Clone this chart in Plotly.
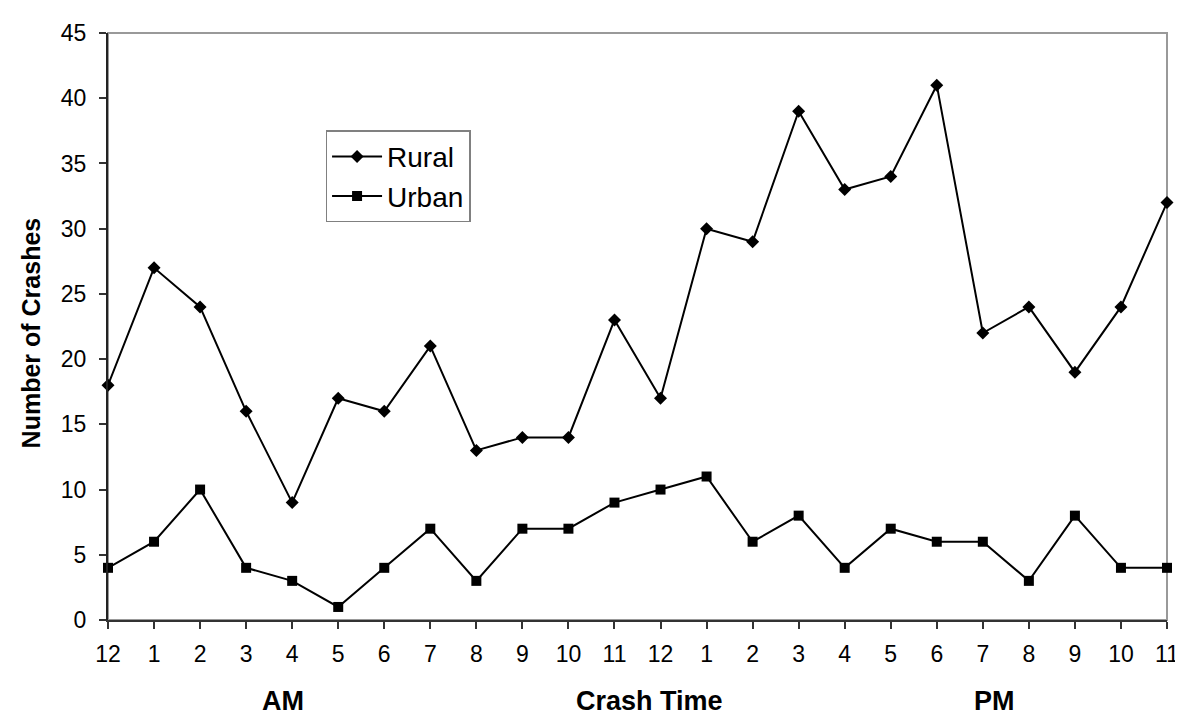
import plotly.graph_objects as go

hours = ["12", "1", "2", "3", "4", "5", "6", "7", "8", "9", "10", "11",
         "12", "1", "2", "3", "4", "5", "6", "7", "8", "9", "10", "11"]
rural = [18, 27, 24, 16, 9, 17, 16, 21, 13, 14, 14, 23,
         17, 30, 29, 39, 33, 34, 41, 22, 24, 19, 24, 32]
urban = [4, 6, 10, 4, 3, 1, 4, 7, 3, 7, 7, 9,
         10, 11, 6, 8, 4, 7, 6, 6, 3, 8, 4, 4]
y_ticks = [0, 5, 10, 15, 20, 25, 30, 35, 40, 45]

xpos = list(range(len(hours)))

W, H = 1183, 717
L, R, T, B = 100, 17, 15, 105
pw = W - L - R
ph = H - T - B

def px_to_paper_x(px):
    return (px - L) / pw

def px_to_paper_y(py):
    return (H - B - py) / ph

fig = go.Figure()
fig.add_trace(go.Scatter(
    x=xpos, y=rural, name="Rural", mode="lines+markers",
    line=dict(color="black", width=2),
    marker=dict(symbol="diamond", size=10, color="black"),
    cliponaxis=False,
))
fig.add_trace(go.Scatter(
    x=xpos, y=urban, name="Urban", mode="lines+markers",
    line=dict(color="black", width=2),
    marker=dict(symbol="square", size=10, color="black"),
    cliponaxis=False,
))

font_family = "Liberation Sans, Arial, sans-serif"

fig.update_layout(
    width=W, height=H,
    margin=dict(l=L, r=R, t=T, b=B, pad=0),
    paper_bgcolor="white", plot_bgcolor="white",
    font=dict(family=font_family, color="black", size=23),
    showlegend=True,
    legend=dict(
        x=px_to_paper_x(319), y=px_to_paper_y(114),
        xanchor="left", yanchor="top",
        bgcolor="white", bordercolor="#808080", borderwidth=1.5,
        font=dict(size=28, family=font_family, color="black"),
        tracegroupgap=0, itemwidth=50,
    ),
    xaxis=dict(
        range=[0, len(hours) - 1],
        tickmode="array", tickvals=xpos, ticktext=hours,
        showgrid=False, zeroline=False,
        showline=True, linecolor="#333333", linewidth=2,
        ticks="outside", ticklen=7, tickwidth=1.5, tickcolor="#333333",
        tickfont=dict(size=23, family=font_family, color="black"),
        ticklabelstandoff=5,
    ),
    yaxis=dict(
        range=[0, 45],
        tickmode="array", tickvals=y_ticks,
        showgrid=False, zeroline=False,
        showline=True, linecolor="#222222", linewidth=2,
        ticks="outside", ticklen=7, tickwidth=1.5, tickcolor="#333333",
        tickfont=dict(size=23, family=font_family, color="black"),
        ticklabelstandoff=8,
    ),
    shapes=[
        dict(type="rect", xref="paper", yref="paper", x0=0, y0=0, x1=1, y1=1,
             line=dict(color="#999999", width=2), layer="below"),
    ],
    annotations=[
        dict(text="<b>Number of Crashes</b>", textangle=-90,
             xref="paper", yref="paper", x=px_to_paper_x(22), y=px_to_paper_y(320),
             xanchor="center", yanchor="middle", showarrow=False,
             font=dict(size=25, family=font_family, color="black")),
        dict(text="<b>AM</b>", xref="paper", yref="paper",
             x=px_to_paper_x(276), y=px_to_paper_y(712),
             xanchor="center", yanchor="bottom", showarrow=False,
             font=dict(size=27, family=font_family, color="black")),
        dict(text="<b>Crash Time</b>", xref="paper", yref="paper",
             x=px_to_paper_x(645), y=px_to_paper_y(712),
             xanchor="center", yanchor="bottom", showarrow=False,
             font=dict(size=27, family=font_family, color="black")),
        dict(text="<b>PM</b>", xref="paper", yref="paper",
             x=px_to_paper_x(992), y=px_to_paper_y(712),
             xanchor="center", yanchor="bottom", showarrow=False,
             font=dict(size=27, family=font_family, color="black")),
    ],
)

fig.write_html("out.html")
